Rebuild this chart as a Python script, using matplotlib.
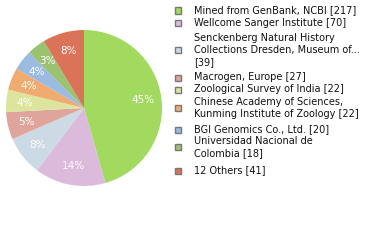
import matplotlib
matplotlib.use("Agg")
import matplotlib.pyplot as plt
from matplotlib.patches import Rectangle

labels = [
    "Mined from GenBank, NCBI [217]",
    "Wellcome Sanger Institute [70]",
    "Senckenberg Natural History\nCollections Dresden, Museum of...\n[39]",
    "Macrogen, Europe [27]",
    "Zoological Survey of India [22]",
    "Chinese Academy of Sciences,\nKunming Institute of Zoology [22]",
    "BGI Genomics Co., Ltd. [20]",
    "Universidad Nacional de\nColombia [18]",
    "12 Others [41]",
]
counts = [217, 70, 39, 27, 22, 22, 20, 18, 41]
colors = ["#a1da5e", "#dcbadc", "#ccdae6", "#dfa59c", "#dde49d",
          "#f0ab70", "#9bbbe0", "#9ac270", "#db7358"]

W, H = 380, 240
fig = plt.figure(figsize=(W / 100, H / 100), dpi=100)

# pie placement in pixels
cx, cy, r = 84, 108, 78
ax = fig.add_axes([(cx - r) / W, (H - cy - r) / H, 2 * r / W, 2 * r / H])
total = sum(counts)
wedges, texts, autotexts = ax.pie(
    counts,
    colors=colors,
    startangle=90,
    counterclock=False,
    radius=1,
    autopct=lambda p: f"{int(p)}%",
    pctdistance=0.76,
    wedgeprops=dict(linewidth=0),
    textprops=dict(color="white", fontsize=7.5),
)
ax.set_xlim(-1, 1)
ax.set_ylim(-1, 1)
ax.set_aspect("equal")
ax.axis("off")

# legend drawn by hand, centers of each entry in pixels from top
entry_y = [10.5, 22.7, 50, 77.5, 89.5, 108, 129.5, 147, 170.5]
for lab, col, y in zip(labels, colors, entry_y):
    fig.patches.append(
        Rectangle(((175) / W, (H - y - 3) / H), 6 / W, 6 / H,
                  transform=fig.transFigure, facecolor=col,
                  edgecolor="#777777", linewidth=1)
    )
    fig.text(194 / W, (H - y) / H, lab, ha="left", va="center",
             fontsize=7, color="#111111", linespacing=1.25)

fig.savefig("out.png", dpi=100)
